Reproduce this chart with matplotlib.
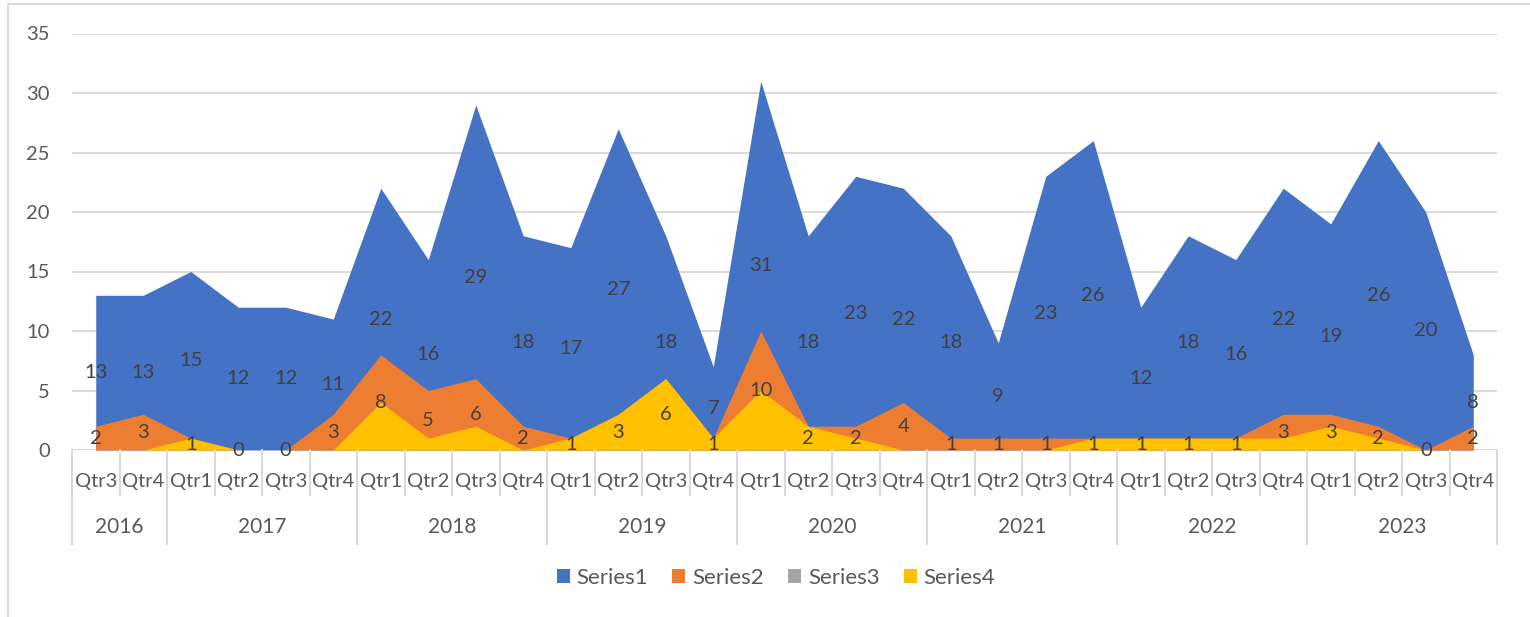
import matplotlib
matplotlib.use("Agg")
import matplotlib.pyplot as plt
from matplotlib.patches import Patch
from matplotlib.lines import Line2D
import numpy as np

plt.rcParams['font.family'] = ['Lato', 'DejaVu Sans']

years = ["2016", "2017", "2018", "2019", "2020", "2021", "2022", "2023"]
quarters_per_year = [["Qtr3", "Qtr4"],
                     ["Qtr1", "Qtr2", "Qtr3", "Qtr4"],
                     ["Qtr1", "Qtr2", "Qtr3", "Qtr4"],
                     ["Qtr1", "Qtr2", "Qtr3", "Qtr4"],
                     ["Qtr1", "Qtr2", "Qtr3", "Qtr4"],
                     ["Qtr1", "Qtr2", "Qtr3", "Qtr4"],
                     ["Qtr1", "Qtr2", "Qtr3", "Qtr4"],
                     ["Qtr1", "Qtr2", "Qtr3", "Qtr4"]]

series1 = [13, 13, 15, 12, 12, 11, 22, 16, 29, 18, 17, 27, 18, 7, 31, 18, 23, 22,
           18, 9, 23, 26, 12, 18, 16, 22, 19, 26, 20, 8]
series2 = [2, 3, 1, 0, 0, 3, 8, 5, 6, 2, 1, 3, 6, 1, 10, 2, 2, 4,
           1, 1, 1, 1, 1, 1, 1, 3, 3, 2, 0, 2]
series3 = [0] * 30
series4 = [0, 0, 1, 0, 0, 0, 4, 1, 2, 0, 1, 3, 6, 1, 5, 2, 1, 0,
           0, 0, 0, 1, 1, 1, 1, 1, 2, 1, 0, 0]

series_names = ["Series1", "Series2", "Series3", "Series4"]
colors = ["#4472C4", "#ED7D31", "#A5A5A5", "#FFC000"]

W, H = 1530, 617
fig = plt.figure(figsize=(W / 100, H / 100), dpi=100)

ax_l, ax_r, ax_t, ax_b = 72, 1497, 33.5, 450
ax = fig.add_axes([ax_l / W, 1 - ax_b / H, (ax_r - ax_l) / W, (ax_b - ax_t) / H])
ax_h_px = ax_b - ax_t

quarters = [q for qs in quarters_per_year for q in qs]
n = len(quarters)
x = np.arange(n)

all_series = [series1, series2, series3, series4]
for s, c in zip(all_series, colors):
    ax.fill_between(x, 0, s, color=c, linewidth=0, zorder=2)

# data labels
for s in (series1, series2):
    for i, v in enumerate(s):
        ax.text(i, v / 2, str(v), ha='center', va='center', fontsize=14.5,
                color='#404040', zorder=5)

ax.set_xlim(-0.5, n - 0.5)
ax.set_ylim(0, 35)
ax.set_yticks(np.arange(0, 36, 5))
ax.yaxis.grid(True, color='#d9d9d9', linewidth=1.4)
ax.set_axisbelow(True)
for sp in ax.spines.values():
    sp.set_visible(False)
ax.tick_params(axis='y', length=0, pad=16, labelsize=14.5, labelcolor='#595959')
ax.set_xticks([])

trans = ax.get_xaxis_transform()
grid_c = '#d9d9d9'
# category separators
for i in range(n + 1):
    ax.add_line(Line2D([i - 0.5, i - 0.5], [0, -45 / ax_h_px], transform=trans,
                       color=grid_c, lw=1.4, clip_on=False))
# year separators and labels
start = 0
bounds = [-0.5]
for y, qs in zip(years, quarters_per_year):
    end = start + len(qs)
    bounds.append(end - 0.5)
    ax.text((start + end - 1) / 2, -77 / ax_h_px, y, transform=trans, ha='center',
            va='center', fontsize=15, color='#595959')
    start = end
for b in bounds:
    ax.add_line(Line2D([b, b], [0, -94 / ax_h_px], transform=trans,
                       color=grid_c, lw=1.4, clip_on=False))
for i, q in enumerate(quarters):
    ax.text(i, -32 / ax_h_px, q, transform=trans, ha='center', va='center',
            fontsize=14.5, color='#595959')

# legend
handles = [Patch(facecolor=c, edgecolor='none') for c in colors]
fig.legend(handles, series_names, loc='center', bbox_to_anchor=(776 / W, 1 - 578 / H),
           ncol=4, frameon=False, fontsize=16, handlelength=0.58, handleheight=0.58,
           handletextpad=0.32, columnspacing=1.08, labelcolor='#595959')

# chart border (left and top)
fig.add_artist(Line2D([8 / W, 8 / W, 1.0], [0.0, 1 - 4 / H, 1 - 4 / H],
                      transform=fig.transFigure, color=grid_c, lw=1.4))

fig.savefig("out.png", dpi=100)
